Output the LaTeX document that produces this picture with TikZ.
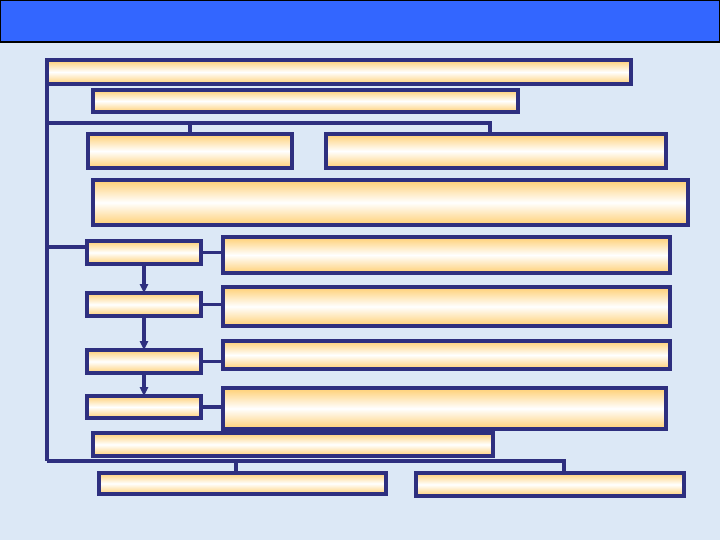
\documentclass[tikz,border=0pt]{standalone}
\usepackage{tikz}
\usetikzlibrary{positioning,arrows.meta,calc}
\definecolor{slidebg}{HTML}{DCE8F6}
\definecolor{titleblue}{HTML}{3366FF}
\definecolor{boxnavy}{HTML}{2E2F7F}
\definecolor{boxorange}{HTML}{FFCF73}
\begin{document}
\begin{tikzpicture}[
  x=0.025cm, y=-0.025cm,
  panel/.style={draw=boxnavy, line width=2.2pt, top color=boxorange, bottom color=boxorange,
                middle color=white, anchor=north west, inner sep=0pt, outer sep=0pt},
  conn/.style={draw=boxnavy, line width=2.2pt},
  arr/.style={conn, -{Triangle[length=2.2mm, width=2mm]}},
]
\fill[slidebg] (0,0) rectangle (720,540);
\useasboundingbox (0,0) rectangle (720,540);
\draw[fill=titleblue, draw=black, line width=0.8pt] (0.4,0.4) rectangle (720,42);

% top block
\node[panel, minimum width=584*0.025cm, minimum height=24*0.025cm] (b1) at (47,60) {};
\node[panel, minimum width=425*0.025cm, minimum height=22*0.025cm] (b2) at (93,90) {};
\node[panel, minimum width=204*0.025cm, minimum height=34*0.025cm] (b3) at (88,134) {};
\node[panel, minimum width=340*0.025cm, minimum height=34*0.025cm] (b4) at (326,134) {};
\node[panel, minimum width=595*0.025cm, minimum height=45*0.025cm] (b5) at (93,180) {};

% chain of steps
\node[panel, minimum width=114*0.025cm, minimum height=23*0.025cm] (s1) at (87,241) {};
\node[panel, minimum width=114*0.025cm, minimum height=23*0.025cm] (s2) at (87,293) {};
\node[panel, minimum width=114*0.025cm, minimum height=23*0.025cm] (s3) at (87,350) {};
\node[panel, minimum width=114*0.025cm, minimum height=22*0.025cm] (s4) at (87,396) {};
\node[panel, minimum width=447*0.025cm, minimum height=36*0.025cm] (d1) at (223,237) {};
\node[panel, minimum width=447*0.025cm, minimum height=39*0.025cm] (d2) at (223,287) {};
\node[panel, minimum width=447*0.025cm, minimum height=28*0.025cm] (d3) at (223,341) {};
\node[panel, minimum width=443*0.025cm, minimum height=41*0.025cm] (d4) at (223,388) {};

% bottom block
\node[panel, minimum width=400*0.025cm, minimum height=23*0.025cm] (b6) at (93,433) {};
\node[panel, minimum width=287*0.025cm, minimum height=21*0.025cm] (b7) at (99,473) {};
\node[panel, minimum width=268*0.025cm, minimum height=23*0.025cm] (b8) at (416,473) {};

\coordinate (j1) at (47,123);
\coordinate (j2) at (47,247);
\coordinate (j3) at (47,461);

\draw[conn] (b1.south west) -- (j3);
\draw[conn] (j1) -| (b3.north);
\draw[conn] (j1) -| ($(b4.north west)+(164,0)$);
\draw[conn] (j2) -- (j2 -| s1.west);
\draw[conn] (s1) -- (s1 -| d1.west);
\draw[conn] (s2) -- (s2 -| d2.west);
\draw[conn] (s3) -- (s3 -| d3.west);
\draw[conn] (s4) -- (s4 -| d4.west);
\draw[arr] (s1) -- (s2);
\draw[arr] (s2) -- (s3);
\draw[arr] (s3) -- (s4);
\draw[conn] (j3) -| ($(b7.north west)+(137,0)$);
\draw[conn] (j3) -| ($(b8.north west)+(148,0)$);
\end{tikzpicture}
\end{document}
